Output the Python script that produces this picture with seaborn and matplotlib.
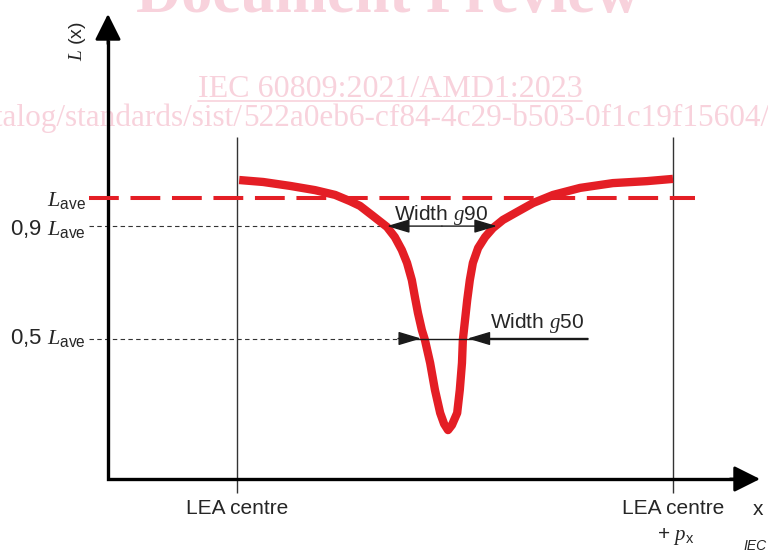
"""
plot.py - luminance profile L(x) across one LEA pitch, with g90 / g50 widths
"""

import matplotlib
matplotlib.use("Agg")
import matplotlib.pyplot as plt
import seaborn as sns
import pandas as pd

# Curve: position in units of the pitch p_x
# (0 = LEA centre, 1 = LEA centre + p_x), luminance relative to L_ave
pos = [0.005, 0.060, 0.122, 0.179, 0.225, 0.259, 0.282, 0.312, 0.344,
       0.362, 0.378, 0.390, 0.401, 0.408, 0.415, 0.424, 0.431,
       0.443, 0.454, 0.466, 0.475, 0.484, 0.493,
       0.505, 0.511, 0.516, 0.518, 0.523, 0.528, 0.534, 0.541, 0.553, 0.569, 0.587,
       0.610, 0.642, 0.679, 0.725, 0.787, 0.862, 0.940, 1.000]
lum = [1.064, 1.057, 1.043, 1.028, 1.011, 0.989, 0.972, 0.936, 0.897,
       0.861, 0.815, 0.769, 0.708, 0.648, 0.591, 0.530, 0.495,
       0.413, 0.317, 0.235, 0.196, 0.174, 0.192,
       0.235, 0.317, 0.413, 0.495, 0.566, 0.637, 0.708, 0.769, 0.822, 0.861, 0.893,
       0.922, 0.950, 0.982, 1.011, 1.036, 1.053, 1.060, 1.068]

l_ave = 1.0
level_90 = 0.9
level_50 = 0.5
g90_edges = [0.344, 0.596]      # arrow tips at 0.9 L_ave
g50_edges = [0.422, 0.529]      # arrow tips at 0.5 L_ave
lea_marks = [0.0, 1.0]
lea_labels = ["LEA centre", "LEA centre"]

WATERMARK_TITLE = "Document Preview"
WATERMARK_STD = "IEC 60809:2021/AMD1:2023"
WATERMARK_URL_A = "catalog/standards/sist/"
WATERMARK_URL_B = "522a0eb6-cf84-4c29-b503-0f1c19f15604/iec-60809-2021-amd1-2023"

RED = "#e41e25"
PINK = "#f8d2dc"
INK = "#1a1a1a"


# pixel -> data helpers (layout only)
def ux(px):
    return (px - 237) / 436


def ly(py):
    return (479 - py) / 281


sns.set_theme(style="white")
plt.rcParams.update({
    "font.family": ["Liberation Sans", "DejaVu Sans"],
    "mathtext.fontset": "custom",
    "mathtext.rm": "Liberation Sans",
    "mathtext.it": "Liberation Serif:italic",
    "mathtext.bf": "Liberation Sans:bold",
})

fig = plt.figure(figsize=(7.68, 5.53), dpi=100)
ax = fig.add_axes([0, 0, 1, 1])
ax.set_xlim(ux(0), ux(768))
ax.set_ylim(ly(553), ly(0))
ax.axis("off")

# watermark (behind everything)
wm = dict(family="Liberation Serif", color=PINK, zorder=0, va="baseline")
ax.text(ux(388), ly(12), WATERMARK_TITLE, ha="center", fontsize=45, fontweight="bold", **wm)
std = ax.text(ux(390), ly(97), WATERMARK_STD, ha="center", fontsize=23, **wm)
ax.text(ux(243), ly(126), WATERMARK_URL_A, ha="right", fontsize=22.5, **wm)
ax.text(ux(243), ly(126), WATERMARK_URL_B, ha="left", fontsize=22.5, **wm)
fig.canvas.draw()
bb = std.get_window_extent().transformed(ax.transData.inverted())
ax.plot([bb.x0, bb.x1], [ly(101), ly(101)], color=PINK, lw=1.2, zorder=0)

# axes with arrow heads
x0 = ux(108)
ax.plot([x0, x0, ux(736)], [ly(40), 0, 0], color="black", lw=2.4,
        solid_joinstyle="miter", solid_capstyle="butt", zorder=3)
head = dict(arrowstyle="-|>,head_length=1.6,head_width=0.8", color="black",
            lw=2.0, shrinkA=0, shrinkB=0, mutation_scale=10)
ax.annotate("", xy=(x0, ly(14)), xytext=(x0, ly(44)), arrowprops=head, zorder=3)
ax.annotate("", xy=(ux(760), 0), xytext=(ux(730), 0), arrowprops=head, zorder=3)

# LEA centre markers
ax.vlines(lea_marks, ly(493), ly(137), color="#333333", lw=1.0, zorder=2)

# reference levels
ax.hlines(l_ave, ux(89), ux(695), color=RED, lw=2.9, linestyles=(0, (7.4, 2.9)), zorder=4)
dots = dict(color="#333333", lw=0.8, linestyles=(0, (4, 3)), zorder=2)
ax.hlines(level_90, ux(89), g90_edges[0], **dots)
ax.hlines(level_50, ux(89), ux(400), **dots)

# the luminance curve
curve = pd.DataFrame({"pos": pos, "lum": lum})
sns.lineplot(data=curve, x="pos", y="lum", estimator=None, sort=False,
             color=RED, lw=6.0, ax=ax, zorder=5)
ax.lines[-1].set_solid_joinstyle("round")
ax.lines[-1].set_solid_capstyle("butt")

# width arrows
small = dict(arrowstyle="-|>,head_length=1.4,head_width=0.42", color=INK,
             lw=1.0, shrinkA=0, shrinkB=0, mutation_scale=10)
mid90 = sum(g90_edges) / 2
ax.annotate("", xy=(g90_edges[0], level_90), xytext=(mid90, level_90), arrowprops=small, zorder=6)
ax.annotate("", xy=(g90_edges[1], level_90), xytext=(mid90, level_90), arrowprops=small, zorder=6)
ax.hlines(level_50, ux(400), ux(588), color=INK, lw=1.0, zorder=6)
ax.annotate("", xy=(g50_edges[0], level_50), xytext=(ux(398), level_50), arrowprops=small, zorder=6)
ax.annotate("", xy=(g50_edges[1], level_50), xytext=(ux(588), level_50), arrowprops=small, zorder=6)

# labels
fs = 15
ax.text(ux(86), ly(206), r"$\mathit{L}_\mathrm{ave}$", ha="right", va="baseline", fontsize=16)
ax.text(ux(86), ly(235), r"0,9 $\mathit{L}_\mathrm{ave}$", ha="right", va="baseline", fontsize=16)
ax.text(ux(86), ly(344), r"0,5 $\mathit{L}_\mathrm{ave}$", ha="right", va="baseline", fontsize=16)
ax.text(ux(441), ly(220), r"Width $\mathit{g}$90", ha="center", va="baseline", fontsize=fs)
ax.text(ux(490), ly(328), r"Width $\mathit{g}$50", ha="left", va="baseline", fontsize=fs)
ax.text(ux(78), ly(41), r"$\mathit{L}$ (x)", rotation=90, ha="center", va="center", fontsize=14)

for m, lab in zip(lea_marks, lea_labels):
    ax.text(m, ly(514), lab, ha="center", va="baseline", fontsize=fs)
ax.text(ux(676), ly(540), r"+ $\mathit{p}_\mathrm{x}$", ha="center", va="baseline", fontsize=fs)
ax.text(ux(758), ly(515), "x", ha="center", va="baseline", fontsize=fs)
ax.text(ux(767), ly(550), "IEC", ha="right", va="baseline", fontsize=10, style="italic")

fig.savefig("out.png", dpi=100)
